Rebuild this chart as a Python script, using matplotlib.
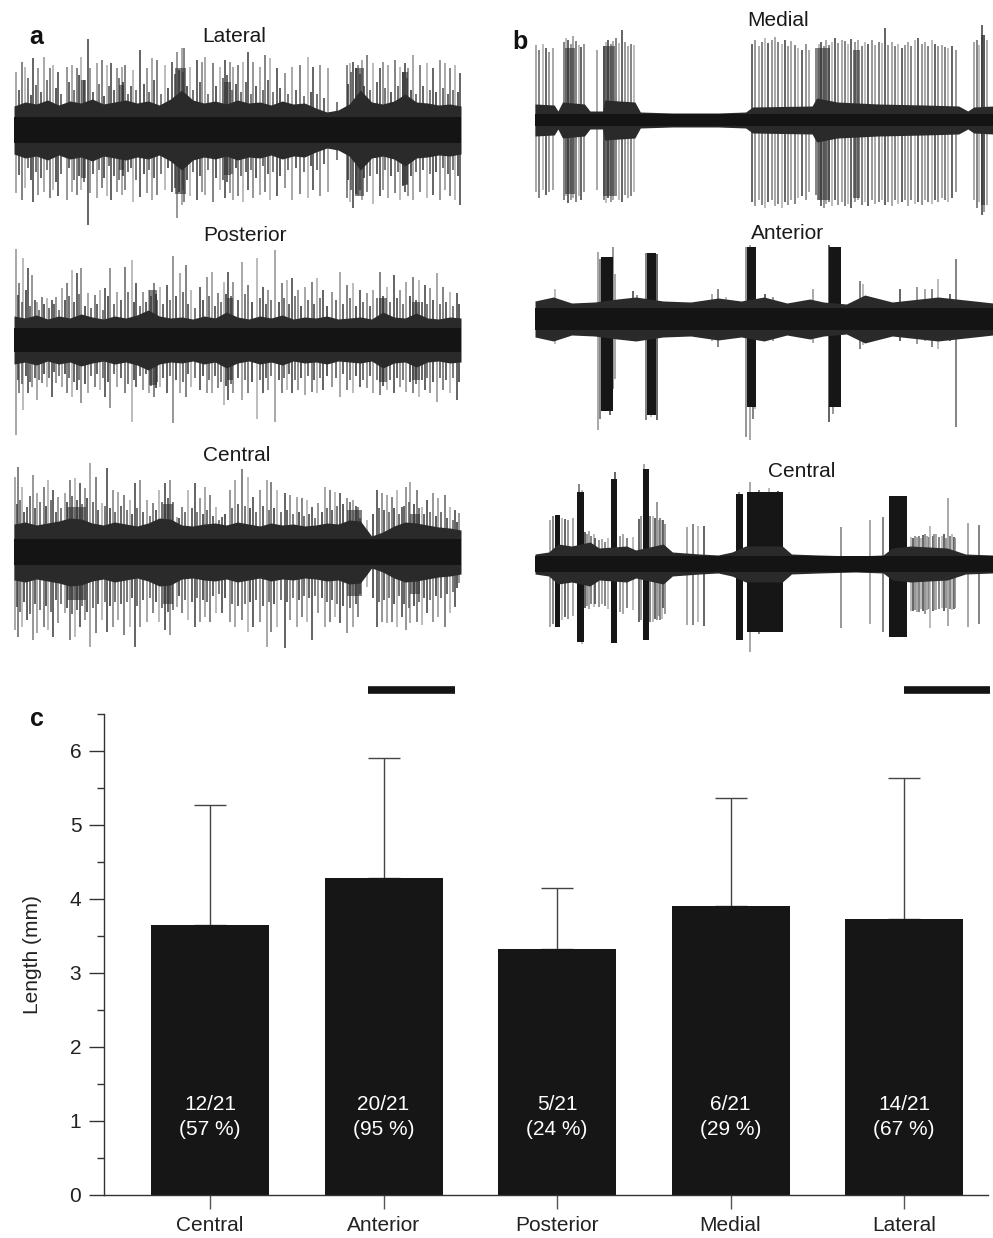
import numpy as np
import matplotlib.pyplot as plt

plt.rcParams['font.family'] = ['Liberation Sans', 'DejaVu Sans']

W, H = 993, 1238

# ---------------- panel c: fibre length per region ----------------
regions = ['Central', 'Anterior', 'Posterior', 'Medial', 'Lateral']
length_mean = [3.65, 4.28, 3.33, 3.90, 3.73]
length_sd = [1.62, 1.62, 0.82, 1.47, 1.90]
n_found = [12, 20, 5, 6, 14]
n_total = 21
pct_found = [57, 95, 24, 29, 67]

# ---------------- panels a/b: recordings (time 0-100, amplitude units) ----------------
# spikes: (time, up amplitude, down amplitude)
lat_spikes = [
    (0.4, 58, 63), (1.7, 68, 70), (2.5, 63, 58), (4.3, 72, 72), (5.4, 62, 65), (6.6, 73, 62), (8.1, 62, 68), (8.8, 65, 60), (9.9, 58, 66), (11.8, 63, 70),
    (12.9, 65, 62), (14.0, 62, 65), (15.1, 73, 60), (16.5, 91, 95), (17.0, 62, 63), (18.5, 67, 68), (19.6, 70, 58), (20.7, 65, 66), (21.8, 67, 70), (23.0, 62, 62),
    (24.1, 63, 65), (24.8, 65, 60), (26.7, 60, 72), (28.2, 80, 67), (29.7, 62, 63), (30.8, 72, 70), (31.9, 70, 65), (33.8, 65, 60), (35.3, 68, 62), (36.4, 78, 88),
    (37.5, 82, 75), (38.1, 82, 72), (39.4, 63, 66), (40.9, 70, 70), (42.0, 68, 62), (42.7, 73, 65), (44.6, 67, 72), (46.1, 63, 60), (47.2, 70, 68), (48.3, 68, 63),
    (49.1, 63, 70), (50.2, 65, 66), (51.3, 68, 72), (52.4, 78, 60), (53.5, 68, 68), (55.0, 63, 65), (56.2, 75, 62), (57.3, 72, 70), (58.8, 62, 66), (60.6, 57, 58),
    (62.1, 63, 70), (64.0, 65, 64), (65.8, 73, 68), (67.0, 63, 60), (68.5, 65, 66), (70.3, 62, 62), (74.4, 65, 68), (75.2, 67, 72), (75.9, 68, 78), (77.0, 65, 65),
    (77.8, 70, 70), (78.9, 75, 62), (80.4, 67, 74), (81.9, 62, 66), (82.6, 68, 60), (83.7, 65, 68), (85.2, 70, 63), (86.4, 63, 70), (87.5, 67, 62), (88.2, 62, 66),
    (89.3, 75, 70), (90.8, 65, 62), (92.3, 67, 68), (93.8, 62, 65), (95.3, 70, 70), (96.4, 67, 60), (97.5, 62, 66), (98.7, 65, 70), (99.8, 57, 75),
]
lat_small = [
    (1.1, 40, 45), (3.2, 52, 38), (3.7, 35, 50), (4.9, 45, 42), (6.0, 38, 48), (7.3, 50, 40), (9.3, 42, 52), (10.6, 36, 44), (12.3, 48, 38), (13.5, 40, 50),
    (14.6, 55, 46), (15.6, 50, 52), (17.7, 38, 44), (19.0, 46, 40), (20.2, 34, 48), (21.2, 44, 36), (22.4, 40, 46), (23.6, 52, 50), (24.4, 48, 46), (25.5, 36, 42),
    (26.1, 44, 38), (27.4, 40, 50), (29.0, 46, 44), (30.2, 38, 40), (31.3, 50, 48), (32.8, 36, 44), (34.5, 42, 38), (36.0, 56, 58), (36.9, 60, 62), (37.8, 58, 60),
    (38.7, 44, 50), (40.1, 40, 42), (41.5, 48, 46), (43.5, 36, 40), (45.3, 44, 48), (46.7, 52, 50), (47.7, 55, 52), (48.8, 40, 44), (49.7, 46, 38), (50.8, 38, 46),
    (51.9, 48, 42), (53.0, 36, 40), (54.2, 44, 48), (55.6, 40, 36), (56.8, 50, 44), (58.0, 38, 42), (59.6, 42, 46), (61.3, 36, 40), (63.0, 40, 38), (64.9, 34, 42),
    (66.4, 38, 36), (67.7, 36, 40), (69.4, 32, 34), (72.3, 28, 30), (74.8, 46, 50), (75.5, 58, 60), (76.4, 62, 64), (77.4, 56, 60), (78.4, 44, 48), (79.6, 40, 46),
    (81.1, 48, 44), (83.1, 42, 40), (84.4, 38, 46), (85.8, 44, 42), (87.0, 58, 56), (87.9, 52, 54), (88.8, 40, 46), (90.0, 36, 42), (91.5, 44, 40), (93.0, 40, 44),
    (94.5, 38, 42), (96.0, 42, 38), (97.0, 36, 44), (98.1, 40, 40), (99.3, 38, 46),
]
lat_env = [24, 28, 26, 30, 25, 29, 27, 31, 26, 28, 30, 27, 29, 25, 31, 40, 30, 27, 29, 26,
           30, 27, 28, 25, 29, 26, 27, 22, 18, 20, 26, 40, 28, 26, 29, 36, 28, 27, 25, 26, 24]
lat_dark = [(15.0, 16.0, 50, 48), (23.6, 24.6, 45, 40), (36.1, 38.4, 62, 64), (47.0, 48.5, 48, 45), (76.2, 78.2, 62, 66), (86.8, 88.2, 58, 55)]
lat_core = 13

post_spikes = [
    (0.4, 91, 95), (1.2, 57, 53), (2.1, 82, 70), (3.2, 72, 53), (4.0, 65, 47), (5.1, 38, 60), (6.2, 43, 43), (7.3, 42, 47), (8.4, 40, 57), (9.5, 43, 43),
    (10.7, 52, 47), (11.8, 57, 53), (12.9, 70, 57), (14.0, 67, 50), (15.1, 72, 63), (16.6, 47, 53), (18.1, 45, 47), (19.2, 50, 50), (20.4, 52, 57), (21.5, 72, 68),
    (23.0, 48, 47), (24.8, 73, 53), (26.3, 80, 82), (27.4, 57, 47), (28.9, 48, 50), (30.1, 50, 53), (31.3, 57, 57), (32.7, 53, 47), (34.2, 55, 53), (35.6, 84, 83),
    (37.1, 67, 53), (38.5, 75, 57), (39.7, 50, 47), (41.6, 53, 50), (43.1, 63, 53), (44.4, 68, 53), (45.7, 47, 48), (47.0, 58, 65), (47.9, 68, 60), (49.1, 58, 53),
    (50.9, 78, 60), (52.4, 55, 53), (54.3, 82, 79), (55.8, 53, 53), (56.9, 50, 50), (58.4, 90, 82), (59.9, 57, 53), (61.0, 60, 50), (62.1, 62, 53), (63.6, 50, 50),
    (65.1, 53, 55), (66.6, 58, 52), (67.7, 62, 53), (69.2, 50, 50), (71.1, 48, 47), (72.9, 68, 57), (74.4, 55, 50), (75.9, 57, 53), (77.4, 50, 47), (78.9, 47, 48),
    (80.4, 50, 53), (81.9, 68, 55), (83.4, 53, 50), (84.9, 65, 53), (86.4, 50, 47), (87.8, 58, 52), (89.3, 63, 53), (90.5, 60, 57), (91.9, 55, 50), (93.1, 52, 53),
    (94.6, 67, 62), (96.0, 53, 50), (97.5, 48, 53), (99.0, 47, 60),
]
post_small = [
    (0.8, 45, 40), (1.7, 38, 44), (2.7, 50, 36), (3.6, 34, 42), (4.6, 40, 38), (5.7, 30, 40), (6.8, 36, 34), (7.9, 32, 38), (9.0, 36, 32), (10.1, 30, 36),
    (11.3, 40, 34), (12.4, 44, 38), (13.5, 38, 42), (14.6, 46, 40), (15.8, 34, 44), (17.3, 32, 36), (18.6, 36, 34), (19.8, 30, 38), (21.0, 44, 42), (22.3, 36, 34),
    (23.9, 40, 38), (25.6, 48, 44), (26.9, 38, 40), (28.2, 34, 36), (29.5, 38, 34), (30.6, 44, 46), (31.8, 46, 48), (32.1, 40, 42), (33.4, 36, 38), (34.9, 40, 36),
    (36.3, 44, 40), (37.8, 48, 42), (39.0, 36, 34), (40.6, 32, 38), (42.3, 40, 36), (43.7, 44, 40), (45.0, 34, 36), (46.3, 38, 42), (47.5, 46, 46), (48.5, 44, 44),
    (50.0, 40, 38), (51.6, 46, 40), (53.3, 38, 42), (55.0, 42, 40), (56.3, 36, 38), (57.6, 40, 36), (59.2, 38, 40), (60.4, 42, 38), (61.5, 36, 34), (62.8, 44, 40),
    (64.3, 34, 38), (65.8, 40, 36), (67.1, 36, 40), (68.4, 42, 38), (70.1, 34, 36), (72.0, 40, 38), (73.6, 36, 34), (75.2, 42, 40), (76.6, 34, 36), (78.1, 38, 40),
    (79.6, 34, 36), (81.1, 42, 40), (82.6, 44, 46), (84.1, 38, 40), (85.6, 42, 38), (87.0, 36, 40), (88.5, 44, 42), (89.9, 40, 44), (91.2, 38, 40), (92.5, 36, 38),
    (93.8, 40, 42), (95.3, 36, 38), (96.7, 38, 40), (98.2, 34, 38), (99.6, 36, 42),
]
post_env = [24, 22, 25, 21, 24, 22, 26, 23, 21, 24, 22, 25, 30, 24, 22, 23, 21, 24, 22, 28,
            23, 21, 24, 22, 25, 21, 23, 22, 24, 21, 22, 23, 21, 28, 23, 22, 27, 22, 21, 23, 22]
post_dark = [(30.3, 31.9, 50, 45), (47.6, 49.1, 42, 40), (81.6, 83.4, 42, 42), (89.0, 90.8, 38, 40)]
post_core = 12

cen_a_spikes = [
    (0.2, 75, 78), (1.0, 85, 85), (1.9, 65, 75), (2.8, 45, 68), (4.3, 77, 88), (5.2, 59, 81), (6.6, 65, 75), (7.7, 72, 78), (8.8, 62, 85), (9.9, 55, 71),
    (11.4, 59, 61), (12.5, 72, 88), (13.6, 74, 85), (14.8, 69, 75), (15.9, 64, 68), (17.0, 89, 95), (18.3, 75, 81), (19.6, 49, 68), (20.9, 84, 80), (22.2, 62, 75),
    (23.3, 60, 68), (24.6, 57, 83), (26.0, 52, 75), (27.1, 69, 95), (28.2, 72, 75), (29.7, 52, 70), (31.2, 49, 61), (32.5, 62, 70), (33.8, 69, 78), (35.0, 72, 83),
    (36.4, 35, 55), (37.5, 45, 61), (39.0, 62, 68), (40.5, 69, 75), (41.6, 54, 70), (42.7, 65, 65), (43.8, 57, 70), (45.2, 45, 61), (46.5, 35, 61), (48.3, 62, 70),
    (49.4, 72, 75), (50.9, 83, 68), (52.4, 75, 80), (53.5, 55, 75), (55.0, 62, 70), (56.5, 72, 95), (57.6, 70, 80), (58.8, 62, 75), (60.6, 59, 96), (61.7, 57, 68),
    (63.2, 55, 75), (64.4, 54, 65), (65.5, 52, 70), (66.6, 45, 88), (68.1, 49, 61), (69.6, 65, 75), (70.7, 62, 70), (71.8, 60, 65), (72.9, 59, 71), (74.4, 54, 81),
    (75.9, 52, 75), (77.0, 45, 65), (78.9, 32, 35), (81.1, 62, 75), (82.3, 59, 70), (83.4, 57, 71), (84.5, 55, 70), (85.6, 62, 75), (86.7, 45, 65), (87.8, 65, 78),
    (88.7, 70, 71), (90.1, 62, 70), (91.2, 45, 73), (92.3, 52, 61), (93.8, 59, 70), (94.9, 54, 65), (96.4, 57, 75), (97.5, 45, 61), (98.7, 42, 55), (99.6, 39, 31),
]
cen_a_small = [
    (0.6, 48, 55), (1.4, 52, 60), (2.3, 40, 50), (3.5, 56, 62), (4.8, 44, 52), (5.9, 50, 58), (7.2, 46, 54), (8.2, 52, 60), (9.4, 40, 48), (10.6, 44, 52),
    (11.9, 50, 56), (13.0, 56, 62), (14.2, 52, 58), (15.3, 48, 54), (16.4, 54, 60), (17.6, 50, 56), (18.9, 42, 52), (20.3, 46, 50), (21.5, 44, 54), (22.7, 40, 50),
    (23.9, 46, 52), (25.3, 42, 50), (26.5, 38, 46), (27.6, 44, 54), (28.9, 40, 48), (30.4, 36, 46), (31.8, 42, 50), (33.1, 50, 56), (34.4, 54, 60), (35.6, 50, 58),
    (36.9, 34, 44), (38.2, 40, 48), (39.8, 44, 50), (41.0, 40, 46), (42.2, 38, 48), (43.2, 42, 50), (44.5, 36, 44), (45.8, 32, 42), (47.3, 38, 46), (48.8, 44, 52),
    (50.1, 48, 54), (51.6, 46, 52), (52.9, 44, 50), (54.2, 40, 48), (55.8, 46, 54), (57.0, 42, 50), (58.2, 44, 52), (59.7, 40, 48), (61.1, 42, 50), (62.5, 38, 46),
    (63.8, 40, 48), (64.9, 36, 44), (66.0, 38, 46), (67.3, 34, 44), (68.8, 40, 46), (70.1, 44, 50), (71.2, 42, 48), (72.3, 46, 52), (73.6, 48, 54), (75.1, 50, 56),
    (76.4, 46, 52), (77.5, 34, 42), (80.4, 38, 46), (81.7, 44, 50), (82.8, 42, 48), (84.0, 40, 46), (85.0, 44, 52), (86.2, 38, 44), (87.2, 46, 52), (88.3, 50, 56),
    (89.4, 48, 54), (90.6, 44, 50), (91.8, 38, 46), (93.0, 40, 48), (94.3, 36, 44), (95.6, 40, 46), (96.9, 34, 42), (98.1, 32, 40), (99.2, 30, 36),
]
cen_a_env = [28, 30, 27, 29, 31, 34, 33, 29, 27, 30, 28, 26, 29, 34, 33, 27, 26, 28, 29, 27,
             30, 28, 26, 29, 27, 28, 26, 27, 29, 28, 32, 31, 16, 20, 26, 30, 29, 27, 25, 24, 22]
cen_a_dark = [(11.8, 16.2, 45, 48), (33.4, 35.6, 48, 52), (74.4, 77.8, 42, 44), (88.6, 90.8, 38, 42)]
cen_a_core = 13

med_spikes = [
    (0.2, 75, 72), (0.9, 70, 78), (1.7, 76, 70), (2.4, 72, 75), (3.1, 68, 72), (3.9, 72, 70),
    (6.3, 78, 80), (6.8, 82, 76), (7.3, 80, 83), (7.8, 76, 80), (8.4, 84, 78), (9.0, 79, 82), (9.5, 75, 76), (10.1, 73, 80), (10.6, 76, 72),
    (13.5, 70, 70),
    (15.1, 74, 80), (15.5, 78, 83), (16.0, 80, 78), (16.5, 76, 82), (17.1, 79, 80), (17.7, 82, 76), (18.3, 77, 80), (18.9, 90, 82), (19.6, 78, 75),
    (20.2, 74, 78), (20.9, 76, 76), (21.6, 75, 72),
    (47.3, 76, 82), (48.0, 80, 86), (48.8, 74, 80), (49.5, 78, 85), (50.2, 82, 88), (50.9, 77, 82), (51.7, 80, 80), (52.4, 83, 86), (53.1, 78, 84),
    (53.9, 76, 88), (54.6, 80, 82), (55.3, 74, 85), (56.0, 79, 80), (56.8, 75, 84), (57.5, 72, 78), (58.2, 70, 76), (59.2, 76, 80), (59.9, 70, 72),
    (61.4, 72, 75), (61.9, 76, 80), (62.4, 78, 86), (63.0, 74, 88), (63.5, 80, 84), (64.1, 75, 82), (64.8, 78, 86), (65.5, 82, 80), (66.2, 77, 85),
    (67.0, 80, 82), (67.7, 79, 86), (68.4, 76, 84), (69.1, 81, 88), (69.9, 78, 82), (70.6, 80, 80), (71.3, 74, 85), (72.1, 78, 82), (72.8, 76, 86),
    (73.5, 80, 80), (74.2, 75, 84), (75.0, 78, 82), (75.7, 77, 80), (76.4, 92, 85), (77.1, 75, 82), (77.9, 78, 86), (78.6, 74, 80), (79.3, 76, 84),
    (80.1, 72, 82), (80.8, 75, 80), (81.5, 78, 86), (82.2, 74, 80), (83.0, 80, 84), (83.7, 82, 82), (84.4, 76, 85), (85.2, 78, 80), (85.9, 74, 82),
    (86.6, 80, 84), (87.3, 76, 80), (88.1, 74, 82), (88.8, 75, 78), (89.5, 73, 80), (90.2, 72, 82), (91.0, 74, 78), (91.9, 70, 72),
    (95.9, 78, 80), (96.4, 80, 88), (97.0, 75, 82), (97.5, 95, 95), (98.0, 85, 92), (98.6, 80, 85),
]
med_env_t = [0, 4.2, 5.0, 6.0, 10.8, 12.0, 14.8, 15.2, 21.8, 23.0, 30, 40, 46, 47.5, 60.5, 61.5, 66, 75, 85, 92.5, 94.5, 95.8, 100]
med_env = [16, 15, 9, 18, 16, 9, 9, 20, 18, 8, 7, 7, 8, 13, 14, 22, 18, 16, 15, 14, 9, 13, 14]
med_dark = [(6.5, 8.7, 72, 74), (14.9, 17.5, 74, 76), (61.5, 64.4, 72, 80), (69.5, 71.0, 70, 78), (97.3, 98.2, 85, 85)]
med_core = 6

ant_spikes = [
    (13.7, 67, 111), (14.3, 60, 100), (15.5, 62, 92), (16.4, 60, 96), (17.1, 72, 70), (17.5, 45, 60),
    (24.2, 66, 101), (25.3, 66, 98), (26.6, 65, 101),
    (46.1, 72, 118), (46.9, 74, 121), (47.5, 70, 100), (48.0, 72, 90),
    (64.3, 74, 103), (65.0, 72, 95), (66.6, 68, 88), (91.9, 60, 108),
    (4.4, 30, 25), (21.5, 28, 22), (22.2, 24, 20), (38.6, 25, 22), (40.0, 30, 28), (41.8, 22, 20), (50.2, 25, 18), (52.0, 22, 22),
    (60.8, 30, 24), (71.0, 38, 30), (71.7, 35, 26), (79.7, 30, 22), (83.3, 32, 25), (85.2, 30, 22), (86.6, 30, 28), (88.1, 40, 30), (90.6, 25, 22),
]
ant_env_t = [0, 4, 8, 13, 18, 22, 28, 34, 40, 45, 50, 55, 60, 63, 68, 72, 78, 84, 88, 92, 96, 100]
ant_env = [18, 22, 16, 17, 20, 22, 18, 17, 21, 18, 22, 16, 20, 17, 15, 24, 17, 20, 22, 20, 18, 16]
ant_dense = [(14.4, 17.0, 62, 92), (24.5, 26.4, 66, 96), (46.3, 48.2, 72, 88), (64.1, 66.8, 72, 88)]
ant_core = 11

cen_b_spikes = [
    (3.3, 44, 63), (4.0, 48, 60), (5.8, 46, 56), (6.5, 45, 53), (7.3, 44, 55), (8.4, 46, 52), (9.6, 80, 78), (10.2, 74, 80),
    (10.9, 32, 44), (11.4, 30, 42), (11.8, 33, 45), (12.3, 28, 40), (12.8, 30, 43), (13.2, 26, 40),
    (13.9, 24, 43), (14.6, 25, 40), (15.3, 22, 42), (16.0, 26, 45), (17.5, 92, 79),
    (18.6, 28, 48), (19.3, 30, 50), (20.0, 26, 44), (21.4, 27, 46),
    (22.6, 45, 58), (23.1, 48, 56), (23.9, 100, 76), (25.2, 48, 58), (25.7, 48, 58), (26.3, 46, 55), (26.6, 62, 56),
    (27.0, 44, 52), (27.4, 46, 56), (27.8, 44, 55), (28.0, 44, 44), (28.4, 40, 50),
    (33.1, 37, 61), (34.6, 40, 61), (35.5, 38, 58), (37.0, 38, 62),
    (44.6, 72, 76), (47.0, 82, 88), (49.0, 74, 70), (51.0, 76, 68), (53.0, 73, 66),
    (66.9, 37, 64), (73.2, 44, 60), (75.9, 47, 68),
    (82.2, 27, 47), (82.6, 26, 47), (82.9, 28, 46), (83.5, 27, 48), (83.9, 28, 48), (84.3, 26, 45), (84.8, 29, 47), (85.2, 30, 50),
    (85.6, 28, 46), (86.0, 27, 45), (86.3, 38, 64), (86.9, 28, 47), (87.2, 30, 46), (87.6, 30, 46), (88.3, 27, 45), (88.9, 28, 44),
    (89.4, 30, 47), (89.8, 26, 44), (90.2, 66, 62), (90.7, 28, 45), (91.1, 30, 46), (91.4, 27, 45), (91.8, 26, 44),
    (94.6, 41, 63), (96.9, 39, 60),
]
cen_b_env_t = [0, 3, 5, 8, 12, 14, 20, 22, 28, 30, 36, 40, 43, 46, 54, 56, 62, 70, 76, 78, 82, 90, 94, 100]
cen_b_env = [10, 12, 20, 18, 22, 16, 18, 14, 20, 12, 10, 9, 12, 18, 18, 10, 9, 8, 9, 16, 18, 16, 10, 9]
cen_b_dense = [(4.4, 5.5, 49, 63), (9.1, 10.6, 72, 78), (16.7, 18.0, 85, 79), (23.5, 24.8, 95, 76),
               (43.9, 45.5, 70, 76), (46.2, 54.2, 72, 68), (77.4, 81.3, 68, 73)]
cen_b_core = 8

scale_a = (79.2, 98.7)
scale_b = (80.6, 99.3)

env_grid = np.arange(0, 100.1, 2.5)
spike_shades = ['#9a9a9a', '#6e6e6e', '#b0b0b0', '#4a4a4a', '#858585']
small_shades = ['#3a3a3a', '#555555', '#2e2e2e', '#4a4a4a']


def px_axes(fig, x0, width, center, half):
    return fig.add_axes([x0 / W, 1 - (center + half) / H, width / W, 2 * half / H])


def draw_spikes(ax, spikes, shades, lw, z):
    t = [s[0] for s in spikes]
    up = [s[1] for s in spikes]
    dn = [-s[2] for s in spikes]
    cols = [shades[i % len(shades)] for i in range(len(t))]
    ax.vlines(t, dn, up, colors=cols, lw=lw, zorder=z)


def draw_trace(ax, spikes, env_t, env, core, half, small=(), dark=(), dense=()):
    draw_spikes(ax, spikes, spike_shades, 1.2, 1)
    if small:
        draw_spikes(ax, small, small_shades, 1.1, 2)
    for t0, t1, u, d in dark:
        ax.fill_between([t0, t1], [-d, -d], [u, u], color='#2b2b2b', alpha=0.6, lw=0, zorder=2)
    for t0, t1, u, d in dense:
        ax.fill_between([t0, t1], [-d, -d], [u, u], color='#161616', lw=0, zorder=2)
    env = np.array(env)
    ax.fill_between(env_t, -env, env, color='#2a2a2a', lw=0, zorder=3)
    ax.axhspan(-core, core, color='#141414', lw=0, zorder=4)
    ax.set_xlim(0, 100)
    ax.set_ylim(-half, half)
    ax.axis('off')


fig = plt.figure(figsize=(W / 100, H / 100), dpi=100)

ax = px_axes(fig, 14, 447, 130, 100)
draw_trace(ax, lat_spikes, env_grid, lat_env, lat_core, 100, small=lat_small, dark=lat_dark)
ax = px_axes(fig, 14, 447, 340, 100)
draw_trace(ax, post_spikes, env_grid, post_env, post_core, 100, small=post_small, dark=post_dark)
ax_ca = px_axes(fig, 14, 447, 552, 100)
draw_trace(ax_ca, cen_a_spikes, env_grid, cen_a_env, cen_a_core, 100, small=cen_a_small, dark=cen_a_dark)
ax_ca.plot(scale_a, [-138, -138], color='#141414', lw=5.5, solid_capstyle='butt', clip_on=False)

ax = px_axes(fig, 535, 458, 120, 130)
draw_trace(ax, med_spikes, med_env_t, med_env, med_core, 130, dark=med_dark)
ax = px_axes(fig, 535, 458, 319, 130)
draw_trace(ax, ant_spikes, ant_env_t, ant_env, ant_core, 130, dense=ant_dense)
ax_cb = px_axes(fig, 535, 458, 564, 130)
draw_trace(ax_cb, cen_b_spikes, cen_b_env_t, cen_b_env, cen_b_core, 130, dense=cen_b_dense)
ax_cb.plot(scale_b, [-126, -126], color='#141414', lw=5.5, solid_capstyle='butt', clip_on=False)

# titles and panel letters
for txt, x, y in [('Lateral', 234, 42), ('Posterior', 245, 241), ('Central', 237, 461),
                  ('Medial', 778, 26), ('Anterior', 788, 239), ('Central', 802, 477)]:
    fig.text(x / W, 1 - y / H, txt, ha='center', va='baseline', fontsize=15, color='#1a1a1a')
for txt, x, y in [('a', 36, 37), ('b', 520, 42), ('c', 37, 719)]:
    fig.text(x / W, 1 - y / H, txt, ha='center', va='center', fontsize=18, fontweight='bold', color='#111111')

# ---------------- bar chart ----------------
axc = fig.add_axes([104 / W, 1 - 1195 / H, 884 / W, 481 / H])
x = np.arange(len(regions))
axc.errorbar(x, length_mean, yerr=[np.zeros(len(x)), length_sd], fmt='none', ecolor='#444444',
             elinewidth=1.0, capsize=11.5, capthick=1.0, zorder=1)
axc.bar(x, length_mean, width=0.68, color='#161616', zorder=2)
for i in range(len(x)):
    axc.text(x[i], 1.05, f'{n_found[i]}/{n_total}\n({pct_found[i]} %)', color='white',
             ha='center', va='center', fontsize=15, linespacing=1.4, zorder=3)

axc.set_xlim(-0.611, 4.484)
axc.set_ylim(0, 6.5)
axc.set_xticks(x)
axc.set_xticklabels(regions)
axc.set_yticks(range(7))
axc.set_yticks(np.arange(0.5, 6.6, 1.0), minor=True)
axc.set_ylabel('Length (mm)', fontsize=15, color='#222222', labelpad=20)
for s in ['top', 'right']:
    axc.spines[s].set_visible(False)
for s in ['left', 'bottom']:
    axc.spines[s].set_color('#333333')
    axc.spines[s].set_linewidth(1.0)
axc.tick_params(axis='y', which='major', length=10.8, width=1.0, color='#333333', labelsize=15,
                labelcolor='#222222', pad=5.5)
axc.tick_params(axis='y', which='minor', length=5, width=1.0, color='#333333')
axc.tick_params(axis='x', which='major', length=10, width=1.0, color='#555555', labelsize=15,
                labelcolor='#222222', pad=5)

fig.savefig('out.png', dpi=100)
